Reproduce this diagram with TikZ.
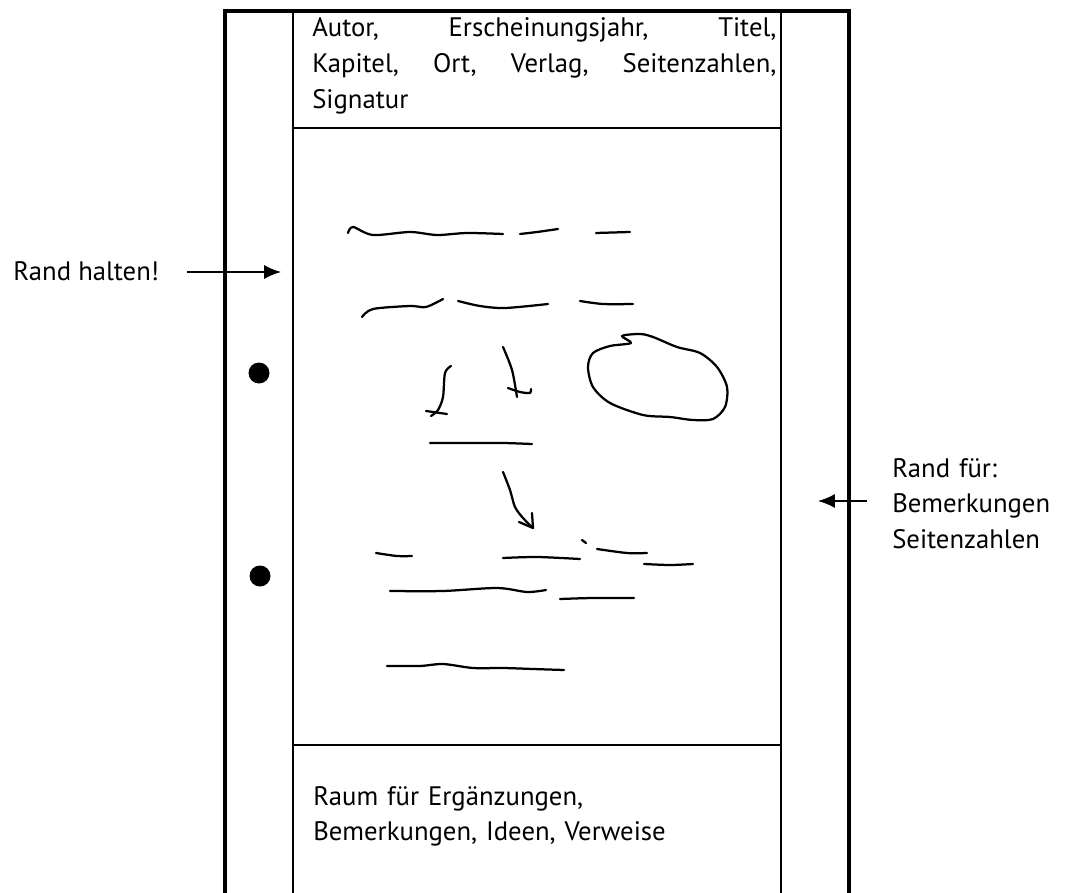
\documentclass[tikz,border=0pt]{standalone}
\usepackage{fontspec}
\setmainfont{PT Sans}
\usepackage{tikz}
\usetikzlibrary{arrows.meta}

\begin{document}
\begin{tikzpicture}[x=0.025cm,y=-0.025cm,
	outer/.style={line width=2.2pt},
	inner/.style={line width=1.4pt},
	scribble/.style={line width=1.6pt,line cap=round,line join=round},
	pointer/.style={line width=1.2pt,-{Latex[length=12pt,width=10pt]}},
	txt/.style={inner sep=0pt,font=\fontsize{19}{25.5}\selectfont}]
	\useasboundingbox (0,0) rectangle (1067,893);
	% sheet and margins
	\draw[outer] (225,893) -- (225,11) -- (849,11) -- (849,893);
	\draw[inner] (293,11) -- (293,893);
	\draw[inner] (781,11) -- (781,893);
	\draw[inner] (293,128) -- (781,128);
	\draw[inner] (293,745) -- (781,745);
	% punch holes
	\fill (259,373) circle (10.5);
	\fill (260,576) circle (10.5);
	% header and footer
	\node[txt,anchor=base west,text width=11.6cm,align=justify] (kopf) at (312,37)
		{Autor, Erscheinungsjahr, Titel,\linebreak Kapitel, Ort, Verlag, Seitenzahlen,\linebreak Signatur};
	\node[txt,anchor=base west,text width=11cm,align=left] (fuss) at (313,805)
		{Raum für Ergänzungen,\\Bemerkungen, Ideen, Verweise};
	% margin notes
	\node[txt,anchor=base west] (links) at (13,280) {Rand halten!};
	\node[txt,anchor=base west,text width=4.4cm,align=left] (rechts) at (892,477)
		{Rand für:\\Bemerkungen\\Seitenzahlen};
	\coordinate (lstart) at (187,272);
	\coordinate (lend) at (281,272);
	\coordinate (rstart) at (867,501);
	\coordinate (rend) at (818,501);
	\draw[pointer] (lstart) -- (lend);
	\draw[pointer] (rstart) -- (rend);
	% handwriting
	\draw[scribble] plot[smooth] coordinates {(348,233) (353,227) (373,235) (410,232) (437,235) (467,233) (503,234)};
	\draw[scribble] plot[smooth] coordinates {(520,234) (537,232) (558,229)};
	\draw[scribble] plot[smooth] coordinates {(596,233) (630,232)};
	\draw[scribble] plot[smooth] coordinates {(362,317) (373,309) (410,306) (426,307) (443,299)};
	\draw[scribble] plot[smooth] coordinates {(458,301) (480,306) (505,308) (548,304)};
	\draw[scribble] plot[smooth] coordinates {(580,301) (603,304) (633,304)};
	\draw[scribble] plot[smooth] coordinates {(451,366) (445,373) (443,397) (438,410) (431,416)};
	\draw[scribble] (426,411) -- (447,414);
	\draw[scribble] plot[smooth] coordinates {(503,347) (512,370) (517,397)};
	\draw[scribble] plot[smooth] coordinates {(508,388) (520,392) (530,393) (531,389)};
	\draw[scribble] plot[smooth cycle] coordinates {(640,334) (653,337) (677,347) (700,353) (717,367) (727,387) (725,407) (713,419) (693,420) (670,417) (643,415) (610,403) (593,387) (588,367) (593,353) (610,346) (631,343) (622,336)};
	\draw[scribble] plot[smooth] coordinates {(430,443) (470,443) (503,443) (532,444)};
	\draw[scribble] plot[smooth] coordinates {(503,472) (510,490) (515,507) (523,518) (533,528)};
	\draw[scribble] (519,522) -- (533,528) -- (532,513);
	\draw[scribble] plot[smooth] coordinates {(376,553) (397,556) (412,556)};
	\draw[scribble] plot[smooth] coordinates {(503,558) (537,557) (580,559)};
	\draw[scribble] (582,540) -- (586,543);
	\draw[scribble] plot[smooth] coordinates {(597,549) (627,553) (647,553)};
	\draw[scribble] plot[smooth] coordinates {(644,564) (670,565) (693,564)};
	\draw[scribble] plot[smooth] coordinates {(390,591) (443,591) (497,588) (527,592) (546,590)};
	\draw[scribble] plot[smooth] coordinates {(560,599) (593,598) (634,598)};
	\draw[scribble] plot[smooth] coordinates {(387,666) (420,666) (443,664) (473,668) (503,668) (533,669) (564,670)};
\end{tikzpicture}
\end{document}
